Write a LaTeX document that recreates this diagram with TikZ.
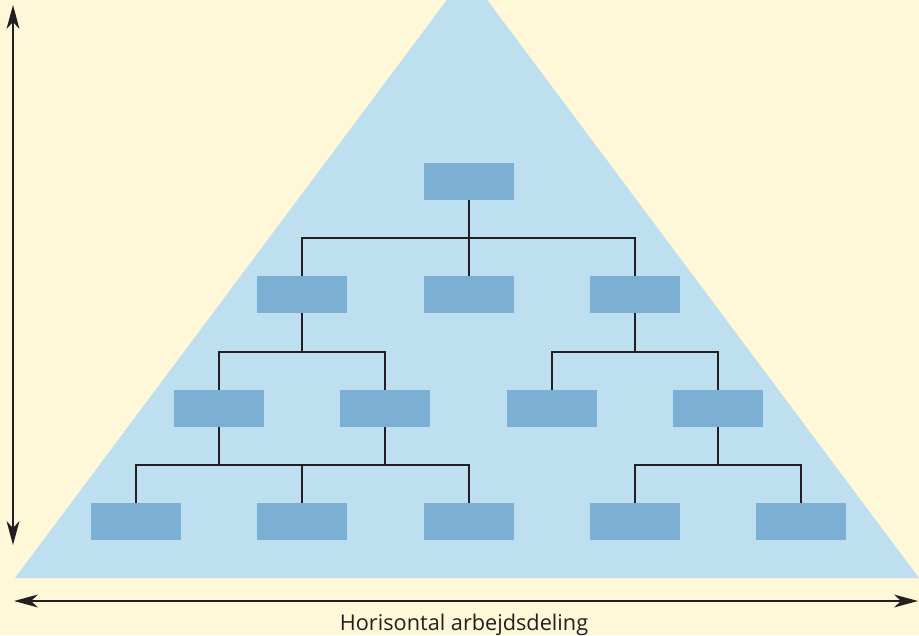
\documentclass[tikz,border=0pt]{standalone}
\usepackage{fontspec}
\setmainfont{Open Sans}
\definecolor{cream}{RGB}{254,247,216}
\definecolor{pyramid}{RGB}{189,223,239}
\definecolor{unit}{RGB}{123,175,212}
\definecolor{ink}{RGB}{35,31,32}
\tikzset{
  unitbox/.style={fill=unit, draw=none, minimum width=90pt, minimum height=37pt, inner sep=0pt},
  link/.style={draw=ink, line width=1.3pt},
  axisline/.style={draw=ink, line width=1.7pt, shorten <=12pt, shorten >=12pt},
  headfill/.style={fill=ink}
}
\begin{document}
\begin{tikzpicture}[x=1pt,y=-1pt]
  \fill[cream] (0,0) rectangle (919,635);
  \useasboundingbox (0,0) rectangle (919,635);
  % pyramid
  \begin{scope}
    \clip (0,0) rectangle (919,635);
    \fill[pyramid] (15,578) -- (467,-27) -- (919,578) -- cycle;
  \end{scope}
  % level 1
  \node[unitbox] (a) at (469,181.5) {};
  % level 2
  \node[unitbox] (b1) at (302,294.5) {};
  \node[unitbox] (b2) at (469,294.5) {};
  \node[unitbox] (b3) at (635,294.5) {};
  % level 3
  \node[unitbox] (c1) at (219,408.5) {};
  \node[unitbox] (c2) at (385,408.5) {};
  \node[unitbox] (c3) at (552,408.5) {};
  \node[unitbox] (c4) at (718,408.5) {};
  % level 4
  \node[unitbox] (d1) at (136,521.5) {};
  \node[unitbox] (d2) at (302,521.5) {};
  \node[unitbox] (d3) at (469,521.5) {};
  \node[unitbox] (d4) at (635,521.5) {};
  \node[unitbox] (d5) at (801,521.5) {};
  % connectors
  \coordinate (ra) at (0,238);
  \coordinate (rb) at (0,352);
  \coordinate (rc) at (0,465);
  \draw[link] (a.south) -- (a.south |- ra);
  \draw[link] (b1.north) -- (b1.north |- ra) -- (b3.north |- ra) -- (b3.north);
  \draw[link] (b2.north) -- (b2.north |- ra);
  \draw[link] (b1.south) -- (b1.south |- rb);
  \draw[link] (c1.north) -- (c1.north |- rb) -- (c2.north |- rb) -- (c2.north);
  \draw[link] (b3.south) -- (b3.south |- rb);
  \draw[link] (c3.north) -- (c3.north |- rb) -- (c4.north |- rb) -- (c4.north);
  \draw[link] (c1.south) -- (c1.south |- rc);
  \draw[link] (c2.south) -- (c2.south |- rc);
  \draw[link] (d1.north) -- (d1.north |- rc) -- (d3.north |- rc) -- (d3.north);
  \draw[link] (d2.north) -- (d2.north |- rc);
  \draw[link] (c4.south) -- (c4.south |- rc);
  \draw[link] (d4.north) -- (d4.north |- rc) -- (d5.north |- rc) -- (d5.north);
  % axes with swept arrowheads
  \coordinate (vt) at (13,5);
  \coordinate (vb) at (13,545);
  \coordinate (hl) at (14,601);
  \coordinate (hr) at (918,601);
  \draw[axisline] (vt) -- (vb);
  \draw[axisline] (hl) -- (hr);
  \fill[headfill] (vt) -- ++(-6.5,24) -- ++(6.5,-7) -- ++(6.5,7) -- cycle;
  \fill[headfill] (vb) -- ++(-6.5,-24) -- ++(6.5,7) -- ++(6.5,-7) -- cycle;
  \fill[headfill] (hl) -- ++(24,-6.5) -- ++(-7,6.5) -- ++(7,6.5) -- cycle;
  \fill[headfill] (hr) -- ++(-24,-6.5) -- ++(7,6.5) -- ++(-7,6.5) -- cycle;
  \node[text=ink, font=\fontsize{21.7}{25}\selectfont, anchor=base] (lbl) at (464,630) {Horisontal arbejdsdeling};
\end{tikzpicture}
\end{document}
